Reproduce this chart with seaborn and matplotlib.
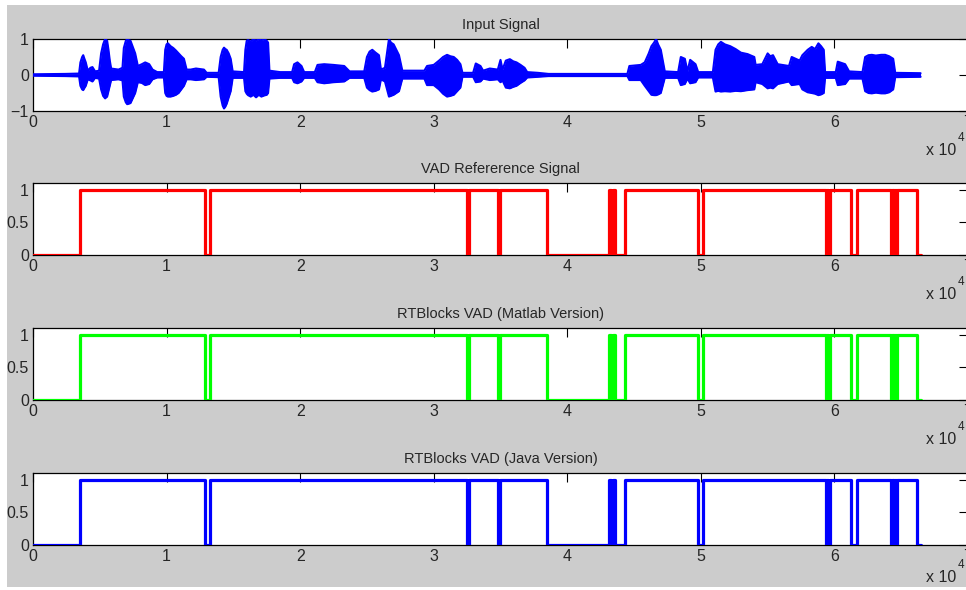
import matplotlib
matplotlib.use("Agg")
import numpy as np
import pandas as pd
import seaborn as sns
import matplotlib.pyplot as plt
from matplotlib.patches import Rectangle

sns.set_style("white")
plt.rcParams["font.family"] = ["Liberation Sans", "DejaVu Sans"]

# ---- input signal: amplitude envelope (sample index, upper, lower) ----
env_x = [0, 2400, 3450, 3550, 3680, 3760, 3850, 3950, 4100, 4300, 4450, 4650,
         4950, 5100, 5250, 5400, 5480, 5550, 5650, 5750, 5850, 6400, 6700, 6800,
         6950, 7050, 7150, 7300, 7450, 7650, 7850, 8150, 8400, 8700, 8950, 9300,
         9800, 9900, 10000, 10100, 10300, 10500, 10700, 10900, 11100, 11300,
         11500, 11800, 12200, 12800, 13000, 13900, 14050, 14200, 14300, 14400,
         14500, 14650, 14800, 14950, 15800, 15900, 16000, 16100, 16300, 16500,
         16700, 16900, 17100, 17300, 17500, 17600, 17700, 18500, 19400, 19550,
         19800, 20100, 20300, 21100, 21300, 21800, 22500, 23300, 23700, 24800,
         25000, 25200, 25400, 25650, 25900, 26050, 26350, 26650, 26800, 27000,
         27200, 27400, 27650, 29300, 29500, 30000, 30400, 30700, 31000, 31250,
         31500, 31750, 32000, 32150, 32950, 33150, 33500, 33700, 34200, 34800,
         35000, 35150, 35400, 35700, 35950, 36200, 36500, 36800, 37000, 37800,
         38600, 44500, 44650, 45500, 45800, 46100, 46300, 46500, 46650, 46800,
         47000, 47300, 48300, 48500, 48800, 49000, 49200, 49600, 49800, 50900,
         51100, 51300, 51500, 51800, 52200, 52600, 53000, 53500, 54000, 54100,
         54600, 55000, 55200, 55400, 55750, 56600, 56800, 57400, 57600, 58000,
         58300, 58550, 58800, 59000, 59200, 59300, 60100, 60250, 60800, 61100,
         62100, 62300, 62550, 62800, 63100, 63500, 63800, 64100, 64400, 64550,
         66450]
env_top = [.02, .03, .04, .35, .50, .55, .45, .35, .12, .20, .22, .10,
           .12, .60, .85, 1.0, .97, .95, .70, .40, .18, .15, .20, .75,
           .95, 1.0, .97, .95, .80, .60, .25, .30, .35, .30, .15, .08,
           .08, .70, .85, .88, .80, .75, .68, .60, .52, .45,
           .15, .15, .18, .15, .06, .06, .50, .70, .76, .72,
           .70, .60, .45, .10, .08, .70, .95, .97, .93, 1.0,
           .95, 1.0, .96, 1.0, .95, .90, .12, .08, .08, .30,
           .35, .25, .08, .08, .28, .30, .28, .25, .10, .10,
           .50, .65, .70, .62, .55, .15, .20, 1.0, .90, .85,
           .70, .55, .12, .12, .25, .28, .40, .50, .56, .52,
           .50, .42, .30, .06, .06, .32, .25, .12, .18, .15,
           .42, .15, .40, .44, .38, .35, .28, .20, .08, .06,
           .03, .03, .25, .28, .35, .60, .80, .90, 1.0, .85,
           .70, .10, .08, .50, .45, .10, .42, .30, .08, .08,
           .70, .85, .92, .85, .80, .72, .62, .58, .50, .28,
           .30, .60, .52, .55, .30, .25, .50, .40, .55, .70,
           .78, .72, .88, .80, .70, .08, .08, .37, .30, .10,
           .08, .50, .55, .56, .54, .56, .56, .52, .45, .06,
           .05]
env_bot = [-.02, -.03, -.04, -.30, -.40, -.42, -.36, -.30, -.12, -.15, -.18, -.08,
           -.10, -.40, -.58, -.65, -.62, -.60, -.45, -.30, -.14, -.12, -.15, -.60,
           -.76, -.81, -.80, -.78, -.66, -.50, -.20, -.22, -.28, -.25, -.12, -.07,
           -.07, -.50, -.58, -.60, -.60, -.58, -.55, -.50, -.40, -.30,
           -.12, -.12, -.14, -.12, -.05, -.06, -.60, -.85, -.93, -.88,
           -.80, -.62, -.45, -.08, -.08, -.45, -.52, -.56, -.60, -.55,
           -.62, -.55, -.60, -.57, -.55, -.50, -.10, -.08, -.08, -.20,
           -.23, -.18, -.08, -.08, -.20, -.23, -.20, -.18, -.08, -.08,
           -.35, -.42, -.46, -.44, -.40, -.12, -.18, -.60, -.58, -.55,
           -.50, -.45, -.10, -.10, -.28, -.28, -.40, -.52, -.60, -.58,
           -.55, -.45, -.35, -.05, -.05, -.20, -.18, -.10, -.14, -.12,
           -.20, -.15, -.35, -.37, -.33, -.30, -.22, -.15, -.07, -.05,
           -.03, -.03, -.14, -.14, -.30, -.45, -.55, -.56, -.56, -.54,
           -.50, -.08, -.08, -.28, -.25, -.10, -.23, -.20, -.07, -.07,
           -.46, -.44, -.46, -.45, -.46, -.44, -.45, -.42, -.40, -.20,
           -.25, -.37, -.35, -.37, -.25, -.18, -.28, -.25, -.40, -.48,
           -.50, -.52, -.56, -.54, -.50, -.08, -.08, -.28, -.25, -.10,
           -.10, -.45, -.50, -.51, -.49, -.51, -.51, -.48, -.40, -.06,
           -.05]

# ---- voice activity decisions: sample index where each level starts ----
ref_t = [0, 3510, 12910, 13280, 32520, 32620, 34780, 34950, 38460, 43130,
         43250, 43400, 43550, 44350, 49810, 50190, 59380, 59450, 59550, 59700,
         61230, 61690, 64230, 64330, 64450, 64550, 64600, 64680, 66200, 66450]
ref_v = [0, 1, 0, 1, 0, 1, 0, 1, 0, 1,
         0, 1, 0, 1, 0, 1, 0, 1, 0, 1,
         0, 1, 0, 1, 0, 1, 0, 1, 0, 0]

matlab_t = [0, 3510, 12910, 13280, 32520, 32620, 34780, 34950, 38460, 43130,
            43250, 43400, 43550, 44350, 49810, 50190, 59380, 59450, 59550, 59700,
            61230, 61690, 64230, 64330, 64450, 64550, 64600, 64680, 66200, 66450]
matlab_v = [0, 1, 0, 1, 0, 1, 0, 1, 0, 1,
            0, 1, 0, 1, 0, 1, 0, 1, 0, 1,
            0, 1, 0, 1, 0, 1, 0, 1, 0, 0]

java_t = [0, 3510, 12910, 13280, 32520, 32620, 34780, 34950, 38460, 43130,
          43250, 43400, 43550, 44350, 49810, 50190, 59380, 59450, 59550, 59700,
          61230, 61690, 64230, 64330, 64450, 64550, 64600, 64680, 66200, 66450]
java_v = [0, 1, 0, 1, 0, 1, 0, 1, 0, 1,
          0, 1, 0, 1, 0, 1, 0, 1, 0, 1,
          0, 1, 0, 1, 0, 1, 0, 1, 0, 0]

titles = ["Input Signal", "VAD Refererence Signal",
          "RTBlocks VAD (Matlab Version)", "RTBlocks VAD (Java Version)"]
x_ticks = [0, 10000, 20000, 30000, 40000, 50000, 60000, 70000]
x_labels = ["0", "1", "2", "3", "4", "5", "6", "7"]

W, H = 966, 590
fig = plt.figure(figsize=(W / 100, H / 100), dpi=100, facecolor="white")
fig.add_artist(Rectangle((7 / W, 3 / H), 1, (587 - 5) / H,
                         transform=fig.transFigure, facecolor="#cccccc",
                         edgecolor="none", zorder=-10))

tops = [39, 183, 328, 473]
axes = []
for top in tops:
    ax = fig.add_axes([33 / W, 1 - (top + 72) / H, 935 / W, 72 / H])
    ax.set_facecolor("white")
    axes.append(ax)


def style_axis(ax, title, exp_y=-0.55):
    ax.set_xlim(0, 70000)
    ax.set_xticks(x_ticks)
    ax.set_xticklabels(x_labels)
    ax.tick_params(direction="in", length=6.5, width=0.8, top=True, right=True,
                   labelsize=11.5, pad=3, color="black")
    for s in ax.spines.values():
        s.set_color("black")
        s.set_linewidth(0.9)
        s.set_visible(True)
    ax.set_xlabel("")
    ax.set_ylabel("")
    ax.set_title(title, fontsize=10.5, pad=7)
    # axis multiplier label, x 10^4
    ax.text(0.955, exp_y, "x 10", transform=ax.transAxes, fontsize=11.5,
            ha="left", va="center")
    ax.text(0.989, exp_y + 0.17, "4", transform=ax.transAxes, fontsize=8.5,
            ha="left", va="center")


# Input signal envelope
env = pd.DataFrame({"sample": env_x, "top": env_top, "bottom": env_bot})
ax = axes[0]
ax.fill_between(env["sample"], env["bottom"], env["top"], color="#0000ff",
                linewidth=0, zorder=3)
sns.lineplot(data=env, x="sample", y="top", ax=ax, color="#0000ff", lw=1.5,
             estimator=None, sort=False, zorder=3)
sns.lineplot(data=env, x="sample", y="bottom", ax=ax, color="#0000ff", lw=1.5,
             estimator=None, sort=False, zorder=3)
ax.set_ylim(-1, 1)
ax.set_yticks([-1, 0, 1])
ax.set_yticklabels(["\u22121", "0", "1"])
style_axis(ax, titles[0])

# VAD step traces
for i, (ax, t, v, col, ttl) in enumerate(
        [(axes[1], ref_t, ref_v, "#ff0000", titles[1]),
         (axes[2], matlab_t, matlab_v, "#00ff00", titles[2]),
         (axes[3], java_t, java_v, "#0000ff", titles[3])]):
    df = pd.DataFrame({"sample": t, "vad": v})
    sns.lineplot(data=df, x="sample", y="vad", ax=ax, color=col, lw=2.3,
                 drawstyle="steps-post", estimator=None, sort=False, zorder=3)
    ax.set_ylim(0, 1.1)
    ax.set_yticks([0, 0.5, 1])
    ax.set_yticklabels(["0", "0.5", "1"])
    style_axis(ax, ttl, exp_y=-0.45 if i == 2 else -0.55)

fig.savefig("out.png", dpi=100)
